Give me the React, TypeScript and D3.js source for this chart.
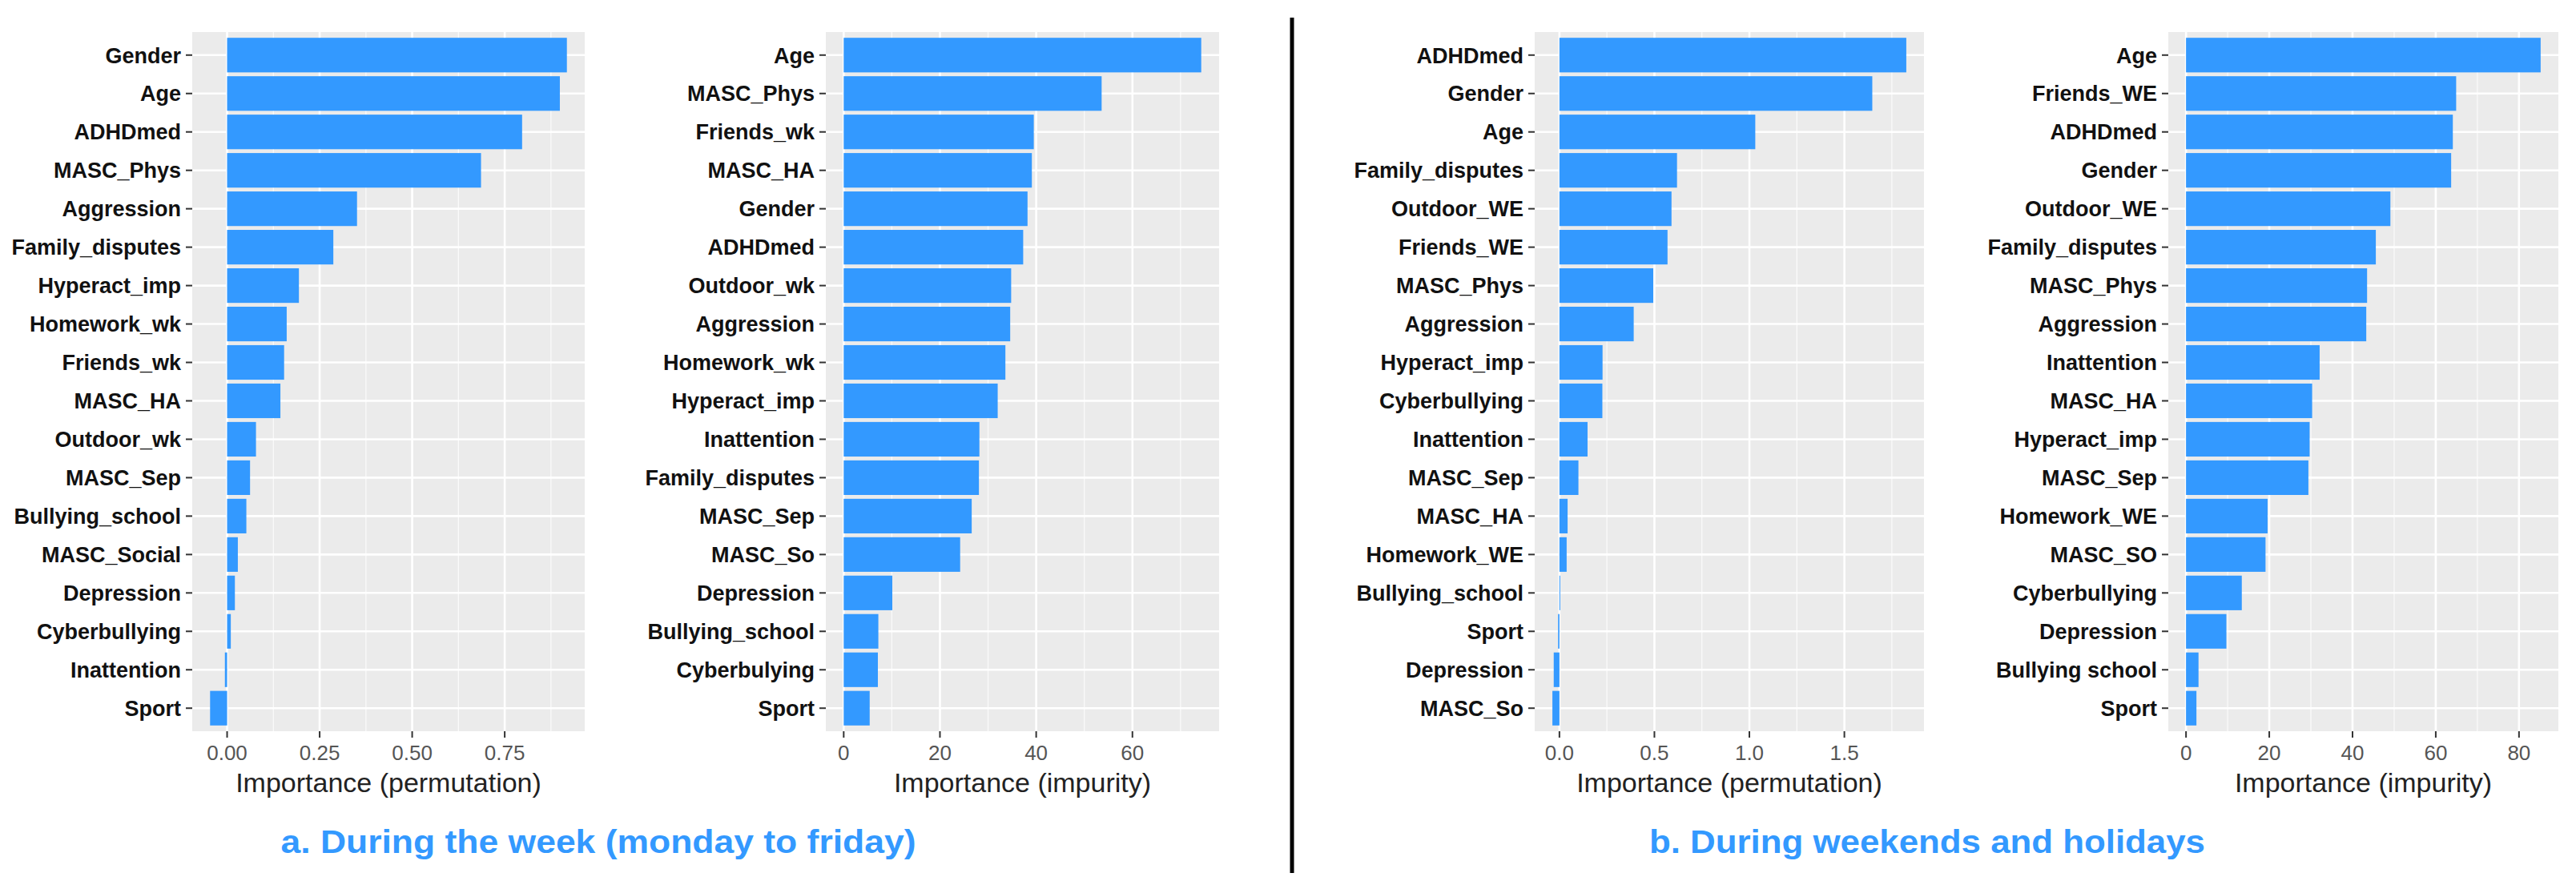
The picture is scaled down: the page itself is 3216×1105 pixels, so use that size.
import React, { useEffect, useRef } from 'react';
import * as d3 from 'd3';

// a. during the week
const weekPermLabels = ['Gender', 'Age', 'ADHDmed', 'MASC_Phys', 'Aggression', 'Family_disputes', 'Hyperact_imp', 'Homework_wk', 'Friends_wk', 'MASC_HA', 'Outdoor_wk', 'MASC_Sep', 'Bullying_school', 'MASC_Social', 'Depression', 'Cyberbullying', 'Inattention', 'Sport'];
const weekPermValues = [0.918, 0.899, 0.797, 0.686, 0.351, 0.287, 0.194, 0.161, 0.154, 0.144, 0.078, 0.062, 0.052, 0.029, 0.021, 0.010, -0.006, -0.046];

const weekImpLabels = ['Age', 'MASC_Phys', 'Friends_wk', 'MASC_HA', 'Gender', 'ADHDmed', 'Outdoor_wk', 'Aggression', 'Homework_wk', 'Hyperact_imp', 'Inattention', 'Family_disputes', 'MASC_Sep', 'MASC_So', 'Depression', 'Bullying_school', 'Cyberbulying', 'Sport'];
const weekImpValues = [74.3, 53.6, 39.5, 39.1, 38.2, 37.3, 34.8, 34.6, 33.6, 32.0, 28.2, 28.1, 26.6, 24.2, 10.1, 7.2, 7.1, 5.4];

// b. weekends and holidays
const wePermLabels = ['ADHDmed', 'Gender', 'Age', 'Family_disputes', 'Outdoor_WE', 'Friends_WE', 'MASC_Phys', 'Aggression', 'Hyperact_imp', 'Cyberbullying', 'Inattention', 'MASC_Sep', 'MASC_HA', 'Homework_WE', 'Bullying_school', 'Sport', 'Depression', 'MASC_So'];
const wePermValues = [1.826, 1.647, 1.031, 0.619, 0.590, 0.569, 0.494, 0.391, 0.227, 0.226, 0.148, 0.100, 0.043, 0.038, 0.004, -0.007, -0.030, -0.037];

const weImpLabels = ['Age', 'Friends_WE', 'ADHDmed', 'Gender', 'Outdoor_WE', 'Family_disputes', 'MASC_Phys', 'Aggression', 'Inattention', 'MASC_HA', 'Hyperact_imp', 'MASC_Sep', 'Homework_WE', 'MASC_SO', 'Cyberbullying', 'Depression', 'Bullying school', 'Sport'];
const weImpValues = [85.2, 64.9, 64.1, 63.7, 49.1, 45.6, 43.5, 43.3, 32.1, 30.3, 29.7, 29.4, 19.6, 19.1, 13.4, 9.7, 3.0, 2.5];

const permTicksA = [0, 0.25, 0.5, 0.75];
const impTicksA = [0, 20, 40, 60];
const permTicksB = [0, 0.5, 1.0, 1.5];
const impTicksB = [0, 20, 40, 60, 80];

const captionA = 'a. During the week (monday to friday)';
const captionB = 'b. During weekends and holidays';

const W = 3216;
const H = 1105;
const BLUE = '#3399ff';
const FONT = '"Liberation Sans", Arial, "DejaVu Sans", sans-serif';

const App = () => {
  const ref = useRef<SVGSVGElement>(null);

  useEffect(() => {
    document.body.style.margin = '0';
    const svg = d3.select(ref.current);
    svg.selectAll('*').remove();

    const top = 40;
    const bottom = 913;

    const panels = [
      { labels: weekPermLabels, values: weekPermValues, ticks: permTicksA, fmt: d3.format('.2f'), title: 'Importance (permutation)', x0: 240, x1: 730 },
      { labels: weekImpLabels, values: weekImpValues, ticks: impTicksA, fmt: d3.format('d'), title: 'Importance (impurity)', x0: 1031, x1: 1522 },
      { labels: wePermLabels, values: wePermValues, ticks: permTicksB, fmt: d3.format('.1f'), title: 'Importance (permutation)', x0: 1916, x1: 2402 },
      { labels: weImpLabels, values: weImpValues, ticks: impTicksB, fmt: d3.format('d'), title: 'Importance (impurity)', x0: 2707, x1: 3194 },
    ];

    panels.forEach(p => {
      const lo = Math.min(0, d3.min(p.values) as number);
      const hi = Math.max(0, d3.max(p.values) as number);
      const pad = (hi - lo) * 0.05;
      const x = d3.scaleLinear().domain([lo - pad, hi + pad]).range([p.x0, p.x1]);
      const y = d3.scalePoint().domain(p.labels).range([top, bottom]).padding(0.6);
      const bh = y.step() * 0.9;

      const g = svg.append('g');

      // panel background
      g.append('rect')
        .attr('x', p.x0).attr('y', top)
        .attr('width', p.x1 - p.x0).attr('height', bottom - top)
        .attr('fill', '#ebebeb');

      // minor grid
      const step = p.ticks[1] - p.ticks[0];
      const [d0, d1] = x.domain();
      const minor: number[] = [];
      for (let k = Math.floor(d0 / step); k * step < d1; k++) {
        const v = (k + 0.5) * step;
        if (v > d0 && v < d1) minor.push(v);
      }
      g.selectAll('.minor')
        .data(minor)
        .enter()
        .append('line')
        .attr('x1', d => x(d)).attr('x2', d => x(d))
        .attr('y1', top).attr('y2', bottom)
        .attr('stroke', '#fafafa').attr('stroke-width', 1.3);

      // major grid
      g.selectAll('.majx')
        .data(p.ticks)
        .enter()
        .append('line')
        .attr('x1', d => x(d)).attr('x2', d => x(d))
        .attr('y1', top).attr('y2', bottom)
        .attr('stroke', '#fff').attr('stroke-width', 2.6);
      g.selectAll('.majy')
        .data(p.labels)
        .enter()
        .append('line')
        .attr('x1', p.x0).attr('x2', p.x1)
        .attr('y1', d => y(d) as number).attr('y2', d => y(d) as number)
        .attr('stroke', '#fff').attr('stroke-width', 2.6);

      // bars
      g.selectAll('.bar')
        .data(p.values)
        .enter()
        .append('rect')
        .attr('x', d => x(Math.min(0, d)))
        .attr('y', (d, i) => (y(p.labels[i]) as number) - bh / 2)
        .attr('width', d => Math.max(1, Math.abs(x(d) - x(0))))
        .attr('height', bh)
        .attr('fill', BLUE);

      // y axis ticks & labels
      p.labels.forEach(l => {
        const yy = y(l) as number;
        g.append('line')
          .attr('x1', p.x0 - 8).attr('x2', p.x0)
          .attr('y1', yy).attr('y2', yy)
          .attr('stroke', '#333').attr('stroke-width', 2);
        g.append('text')
          .attr('x', p.x0 - 14).attr('y', yy)
          .attr('dy', '0.36em')
          .attr('text-anchor', 'end')
          .attr('font-family', FONT)
          .attr('font-weight', 'bold')
          .attr('font-size', 27)
          .attr('fill', '#111')
          .text(l);
      });

      // x axis ticks & labels
      p.ticks.forEach(t => {
        g.append('line')
          .attr('x1', x(t)).attr('x2', x(t))
          .attr('y1', bottom).attr('y2', bottom + 8)
          .attr('stroke', '#333').attr('stroke-width', 2);
        g.append('text')
          .attr('x', x(t)).attr('y', 949)
          .attr('text-anchor', 'middle')
          .attr('font-family', FONT)
          .attr('font-size', 26)
          .attr('fill', '#555')
          .text(p.fmt(t));
      });

      g.append('text')
        .attr('x', (p.x0 + p.x1) / 2).attr('y', 989)
        .attr('text-anchor', 'middle')
        .attr('font-family', FONT)
        .attr('font-size', 34)
        .attr('fill', '#222')
        .text(p.title);
    });

    // divider
    svg.append('line')
      .attr('x1', 1613).attr('x2', 1613)
      .attr('y1', 22).attr('y2', 1090)
      .attr('stroke', '#000').attr('stroke-width', 5);

    // captions
    [[captionA, 747, 793], [captionB, 2406, 694]].forEach(([txt, cx, len]) => {
      svg.append('text')
        .attr('x', cx as number).attr('y', 1065)
        .attr('text-anchor', 'middle')
        .attr('font-family', FONT)
        .attr('font-weight', 'bold')
        .attr('font-size', 40)
        .attr('fill', BLUE)
        .attr('textLength', len as number)
        .attr('lengthAdjust', 'spacingAndGlyphs')
        .text(txt as string);
    });
  }, []);

  return <svg ref={ref} width={W} height={H} style={{ display: 'block', background: '#fff' }} />;
};

export default App;
